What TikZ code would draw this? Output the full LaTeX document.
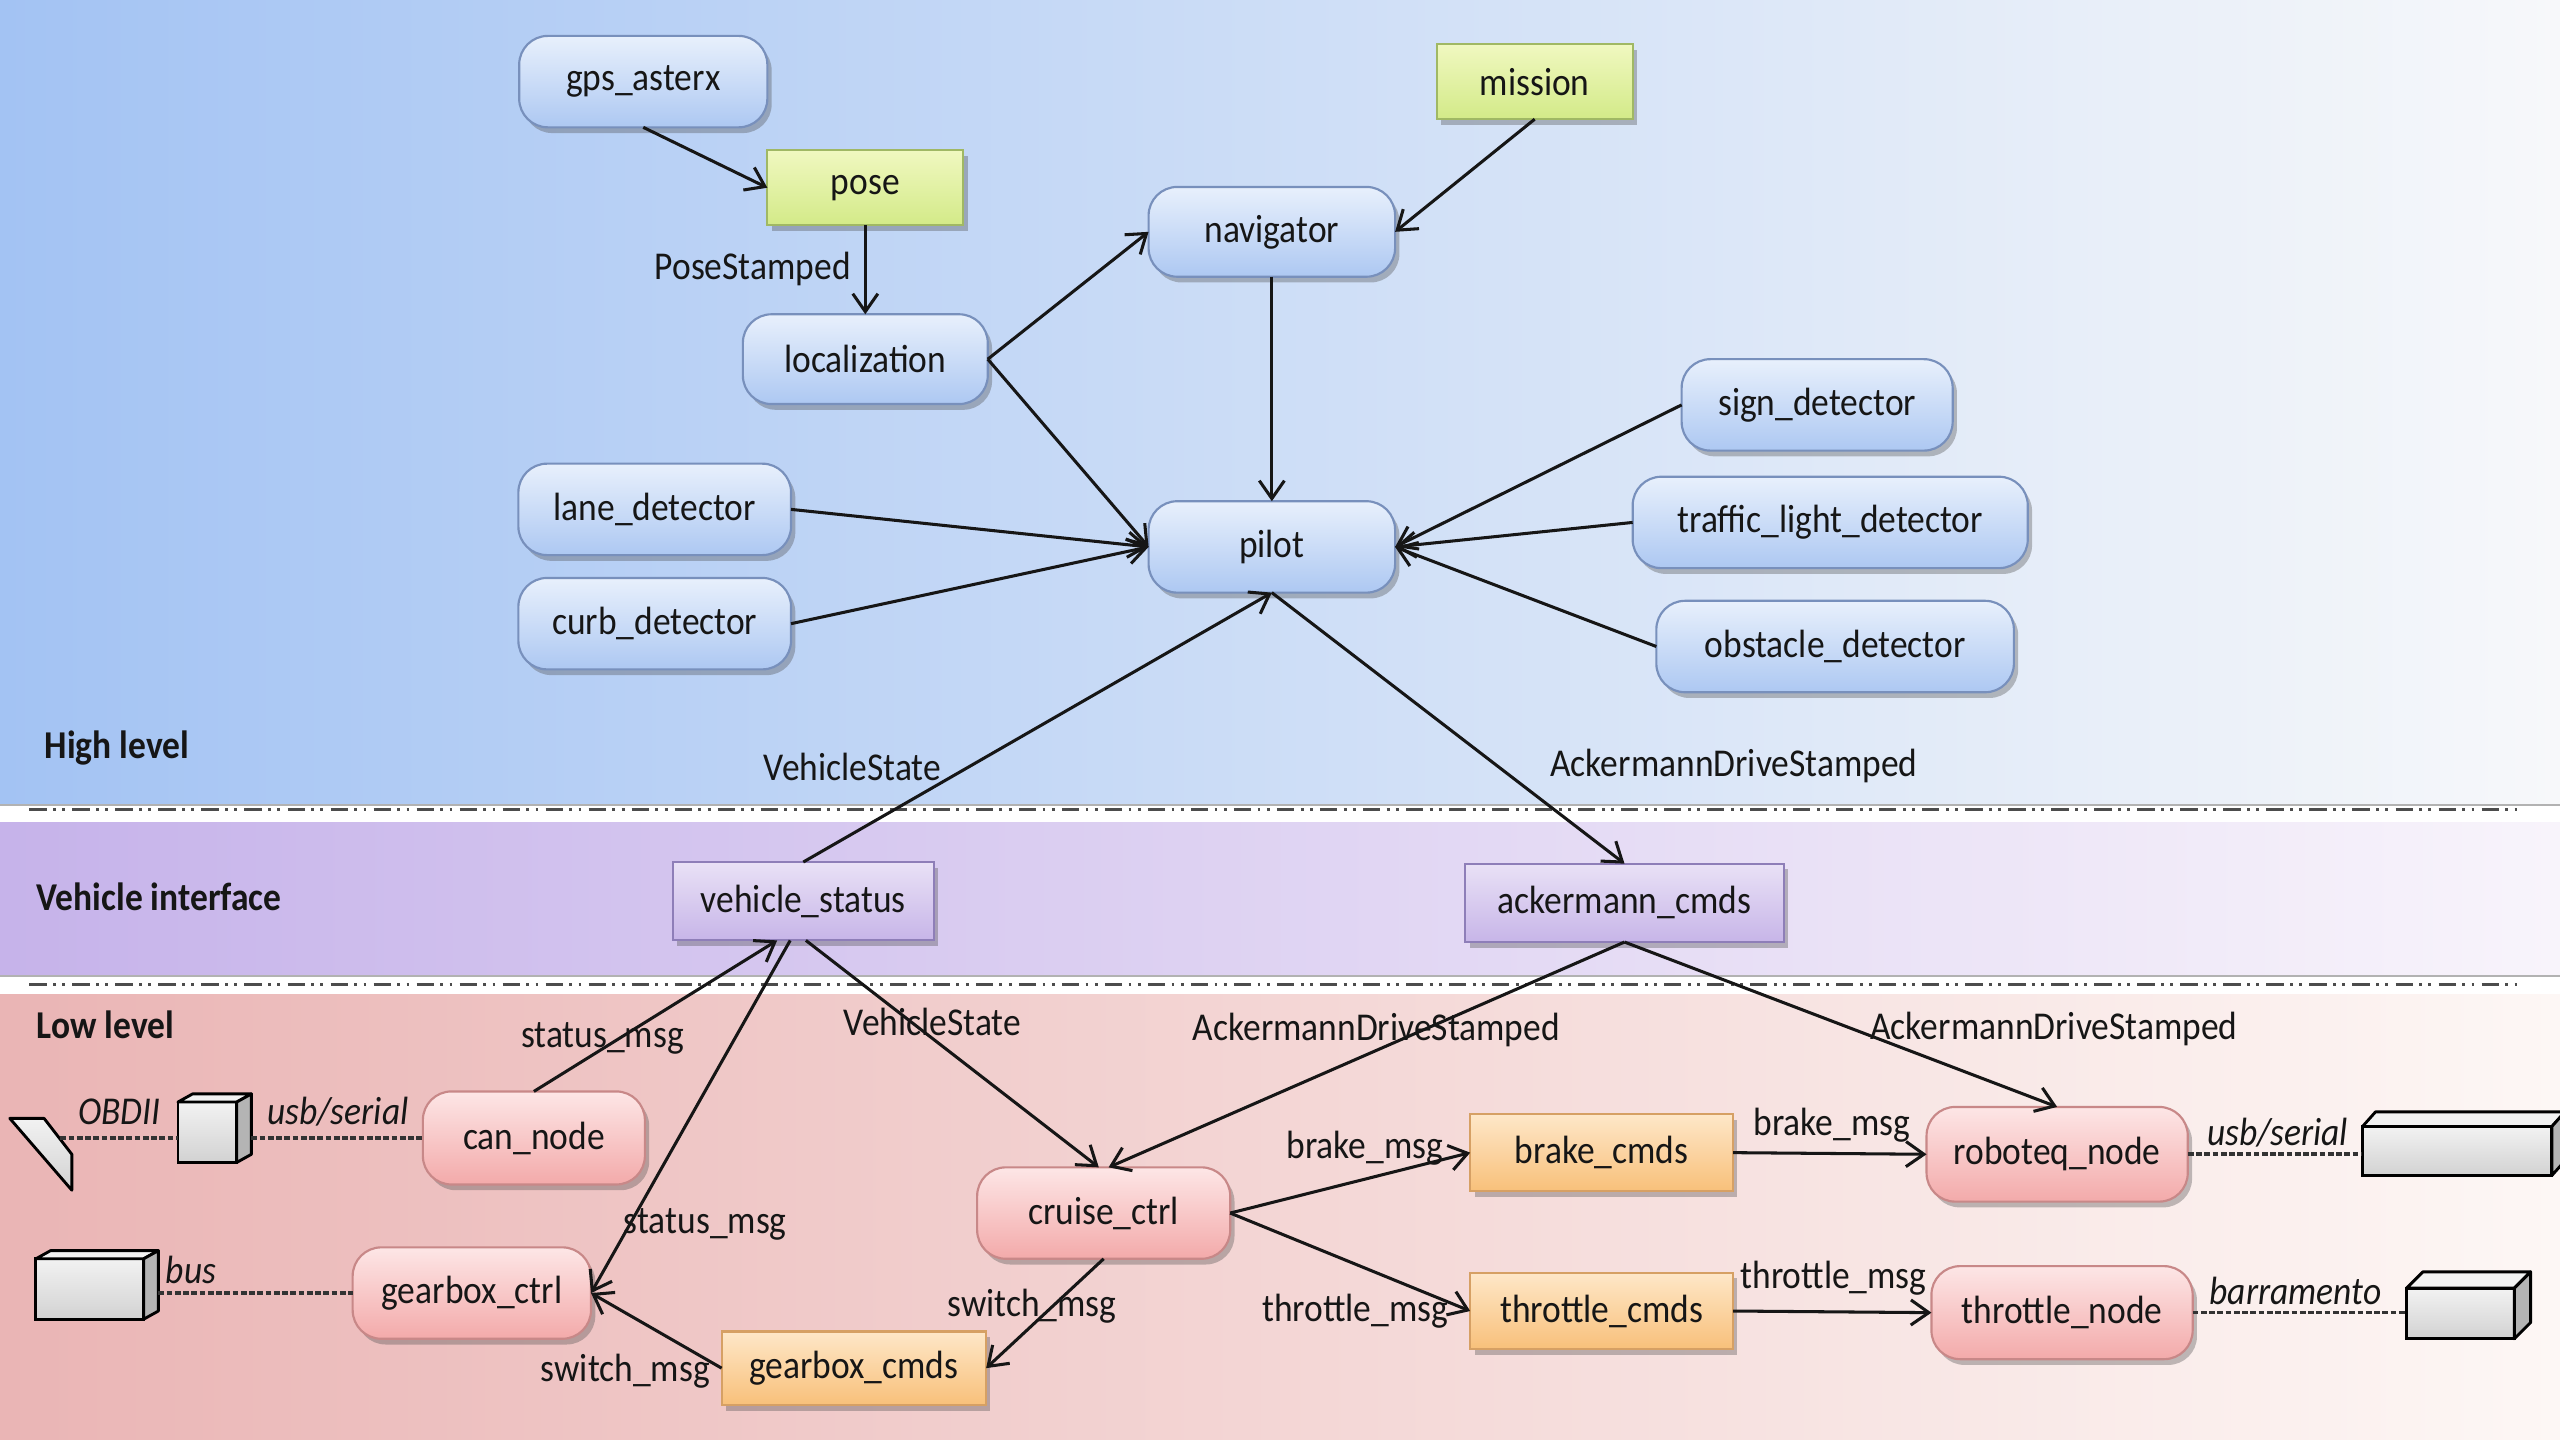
\documentclass[tikz,border=0pt]{standalone}
\usepackage{fontspec}
\setmainfont{Carlito}[FakeStretch=0.9]
\usetikzlibrary{arrows.meta,shadows,calc}

% band backgrounds
\definecolor{hlA}{HTML}{A3C3F3}
\definecolor{hlB}{HTML}{F7F8FA}
\definecolor{viA}{HTML}{C6B3EA}
\definecolor{viB}{HTML}{F8F4FB}
\definecolor{llA}{HTML}{EAB5B5}
\definecolor{llB}{HTML}{FDF7F5}
% node fills
\definecolor{blueTop}{HTML}{E8F0FC}
\definecolor{blueBot}{HTML}{ADC8F2}
\definecolor{blueBd}{HTML}{7890BC}
\definecolor{greenTop}{HTML}{F0F8C0}
\definecolor{greenBot}{HTML}{D3EA88}
\definecolor{greenBd}{HTML}{A0B864}
\definecolor{purTop}{HTML}{E9E1F6}
\definecolor{purBot}{HTML}{C7B5E8}
\definecolor{purBd}{HTML}{8E7EB8}
\definecolor{pinkTop}{HTML}{FDE6E6}
\definecolor{pinkBot}{HTML}{F3AAAA}
\definecolor{pinkBd}{HTML}{C88888}
\definecolor{oraTop}{HTML}{FEE7C8}
\definecolor{oraBot}{HTML}{F8C07A}
\definecolor{oraBd}{HTML}{D6A064}
\definecolor{devTop}{HTML}{F2F2F2}
\definecolor{devFront}{HTML}{D2D2D2}
\definecolor{devSide}{HTML}{B4B4B4}
\definecolor{inkc}{HTML}{161616}

% a 3D hardware box: name, centre x, centre y, width, height, depth x, depth y
\newcommand{\devbox}[7]{%
  \node[devfront, minimum width=#4*0.016cm, minimum height=#5*0.016cm] (#1) at (#2,#3) {};
  \draw[devedge, fill=devTop] (#1.north west) -- ++(#6,-#7) -- ($(#1.north east)+(#6,-#7)$) -- (#1.north east) -- cycle;
  \draw[devedge, fill=devSide] (#1.north east) -- ++(#6,-#7) -- ($(#1.south east)+(#6,-#7)$) -- (#1.south east) -- cycle;
}

\begin{document}
\begin{tikzpicture}[x=0.016cm, y=-0.016cm,
  every node/.style={font=\fontsize{11}{13}\selectfont, text=inkc},
  wh/.style 2 args={minimum width=#1*0.016cm, minimum height=#2*0.016cm},
  boxbase/.style={inner sep=0pt, outer sep=0pt, line width=0.6pt,
    drop shadow={shadow xshift=1.2pt, shadow yshift=-1.6pt, opacity=0.35, fill=black!70}},
  hl/.style={boxbase, draw=blueBd, rounded corners=8pt, top color=blueTop, bottom color=blueBot},
  topic/.style={boxbase, draw=greenBd, top color=greenTop, bottom color=greenBot},
  vi/.style={boxbase, draw=purBd, top color=purTop, bottom color=purBot},
  ll/.style={boxbase, draw=pinkBd, rounded corners=8pt, top color=pinkTop, bottom color=pinkBot},
  cmd/.style={boxbase, draw=oraBd, top color=oraTop, bottom color=oraBot},
  conn/.style={draw=inkc, line width=0.85pt, -{Straight Barb[length=5pt,width=7pt]}},
  lbl/.style={inner sep=0pt},
  bandlbl/.style={inner sep=0pt, anchor=west, font=\fontsize{11}{13}\selectfont\bfseries},
  devlbl/.style={inner sep=0pt, font=\fontsize{11}{13}\selectfont\itshape},
  devline/.style={draw=black!80, line width=1pt, dash pattern=on 1.6pt off 0.7pt},
  devfront/.style={draw=black, line width=0.8pt, inner sep=0pt, outer sep=0pt,
    top color=devTop, bottom color=devFront},
  devedge/.style={draw=black, line width=0.8pt, line join=round},
  sepline/.style={draw=black!70, line width=0.9pt,
    dash pattern=on 4.8pt off 1.8pt on 0.8pt off 1.8pt on 0.8pt off 2pt}]

\useasboundingbox (0,0) rectangle (1568,882);
\clip (0,0) rectangle (1568,882);

% layer bands
\fill[white] (0,0) rectangle (1568,882);
\shade[left color=hlA, right color=hlB] (0,0) rectangle (1568,493);
\shade[left color=viA, right color=viB] (0,504) rectangle (1568,598);
\shade[left color=llA, right color=llB] (0,609) rectangle (1568,882);
\draw[black!30, line width=0.6pt] (0,493) -- (1568,493);
\draw[black!30, line width=0.6pt] (0,598) -- (1568,598);
\draw[sepline] (18,496) -- (1545,496);
\draw[sepline] (18,603) -- (1545,603);

\node[bandlbl] (hlTitle) at (27,458) {High level};
\node[bandlbl] (viTitle) at (22,549) {Vehicle interface};
\node[bandlbl] (llTitle) at (22,628) {Low level};

% high level nodes
\node[hl, wh={152}{56}] (gps) at (394,50) {gps\_asterx};
\node[topic, wh={120}{46}] (pose) at (530,115) {pose};
\node[topic, wh={120}{46}] (mission) at (940,50) {mission};
\node[hl, wh={151}{55}] (nav) at (779,142) {navigator};
\node[hl, wh={150}{55}] (loc) at (530,220) {localization};
\node[hl, wh={151}{56}] (pilot) at (779,335) {pilot};
\node[hl, wh={167}{56}] (lane) at (401,312) {lane\_detector};
\node[hl, wh={167}{56}] (curb) at (401,382) {curb\_detector};
\node[hl, wh={166}{56}] (sign) at (1113,248) {sign\_detector};
\node[hl, wh={242}{56}] (traffic) at (1121,320) {traffic\_light\_detector};
\node[hl, wh={219}{56}] (obst) at (1124,396) {obstacle\_detector};

% vehicle interface nodes
\node[vi, wh={160}{48}] (vs) at (492,552) {vehicle\_status};
\node[vi, wh={195}{48}] (ack) at (995,553) {ackermann\_cmds};

% low level nodes
\node[ll, wh={136}{57}] (can) at (327,697) {can\_node};
\node[ll, wh={146}{56}] (gbx) at (289,792) {gearbox\_ctrl};
\node[ll, wh={155}{56}] (cruise) at (676,743) {cruise\_ctrl};
\node[cmd, wh={162}{45}] (gbc) at (523,838) {gearbox\_cmds};
\node[cmd, wh={161}{47}] (brake) at (981,706) {brake\_cmds};
\node[cmd, wh={161}{47}] (thc) at (981,803) {throttle\_cmds};
\node[ll, wh={160}{58}] (robo) at (1260,707) {roboteq\_node};
\node[ll, wh={160}{57}] (thn) at (1263,804) {throttle\_node};

% hardware
\devbox{cubeA}{127}{693.5}{36}{37}{9}{5}
\devbox{boxB}{55}{789.5}{66}{37}{9}{5}
\devbox{boxC}{1505}{705}{116}{30}{8}{9}
\devbox{boxD}{1507}{804.5}{66}{31}{10}{10}
\draw[devedge, top color=devTop, bottom color=devFront] (6,685) -- (27,685) -- (44,707) -- (44,729) -- cycle;
\coordinate (obd) at (37,697);

% device links run level with the node they serve
\draw[devline] (obd) -- (obd -| cubeA.west);
\draw[devline] ($(can.west -| cubeA.east)+(9,0)$) -- (can.west);
\draw[devline] ($(gbx.west -| boxB.east)+(9,0)$) -- (gbx.west);
\draw[devline] (robo.east) -- (robo.east -| boxC.west);
\draw[devline] (thn.east) -- (thn.east -| boxD.west);

\node[devlbl] (tObd) at (73,681) {OBDII};
\node[devlbl] (tUsbA) at (207,681) {usb/serial};
\node[devlbl] (tBus) at (117,778) {bus};
\node[devlbl] (tUsbB) at (1395,694) {usb/serial};
\node[devlbl] (tBarr) at (1406,791) {barramento};

% high level connections
\draw[conn] (gps.south) -- (pose.west);
\draw[conn] (pose.south) -- (loc.north);
\draw[conn] (mission.south) -- (nav.east);
\draw[conn] (loc.east) -- (nav.west);
\draw[conn] (loc.east) -- (pilot.west);
\draw[conn] (nav.south) -- (pilot.north);
\draw[conn] (lane.east) -- (pilot.west);
\draw[conn] (curb.east) -- (pilot.west);
\draw[conn] (sign.west) -- (pilot.east);
\draw[conn] (traffic.west) -- (pilot.east);
\draw[conn] (obst.west) -- (pilot.east);
\draw[conn] (vs.north) -- (pilot.south);
\draw[conn] (pilot.south) -- (ack.north);

% low level connections
\draw[conn] (can.north) -- ($(vs.south west)!0.4!(vs.south east)$);
\draw[conn] ($(vs.south west)!0.45!(vs.south east)$) -- (gbx.east);
\draw[conn] ($(vs.south west)!0.51!(vs.south east)$) -- ($(cruise.north)+(-3,0)$);
\draw[conn] (ack.south) -- ($(cruise.north)+(3,0)$);
\draw[conn] (ack.south) -- (robo.north);
\draw[conn] (cruise.east) -- (brake.west);
\draw[conn] (cruise.east) -- (thc.west);
\draw[conn] (cruise.south) -- (gbc.east);
\draw[conn] (gbc.west) -- (gbx.east);
\draw[conn] (brake.east) -- (robo.west);
\draw[conn] (thc.east) -- (thn.west);

% message labels
\node[lbl] (tPose) at (461,165) {PoseStamped};
\node[lbl] (tVsUp) at (522,470) {VehicleState};
\node[lbl] (tAckUp) at (1062,469) {AckermannDriveStamped};
\node[lbl] (tStatA) at (369,636) {status\_msg};
\node[lbl] (tStatB) at (432,750) {status\_msg};
\node[lbl] (tVsLow) at (571,626) {VehicleState};
\node[lbl] (tAckL) at (843,631) {AckermannDriveStamped};
\node[lbl] (tAckR) at (1258,630) {AckermannDriveStamped};
\node[lbl] (tBrakeA) at (836,703) {brake\_msg};
\node[lbl] (tThrA) at (830,803) {throttle\_msg};
\node[lbl] (tSwA) at (632,800) {switch\_msg};
\node[lbl] (tSwB) at (383,840) {switch\_msg};
\node[lbl] (tBrakeB) at (1122,689) {brake\_msg};
\node[lbl] (tThrB) at (1123,783) {throttle\_msg};

\end{tikzpicture}
\end{document}
